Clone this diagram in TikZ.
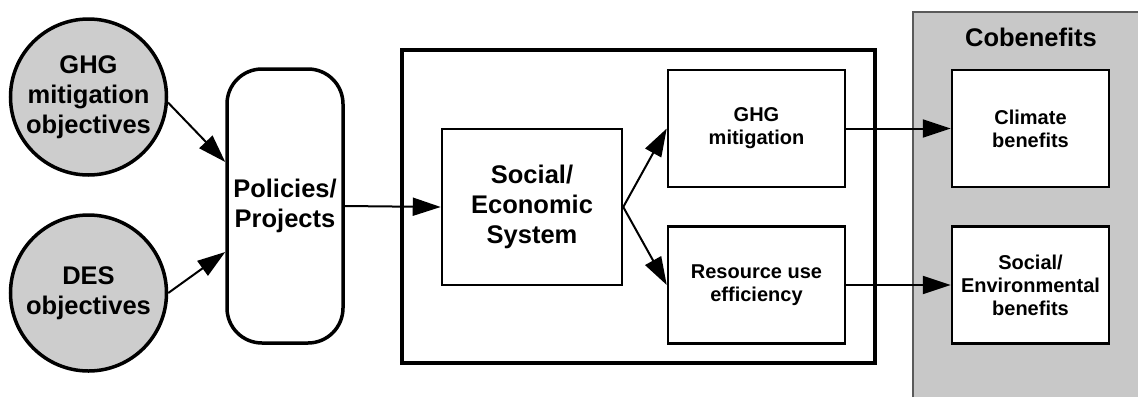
\documentclass[tikz,border=0pt]{standalone}
\usepackage{fontspec}
\setmainfont{Liberation Sans}
\usetikzlibrary{arrows.meta,calc}
\definecolor{panelgray}{RGB}{200,200,200}
\definecolor{circgray}{RGB}{205,205,205}
\definecolor{edgegray}{RGB}{90,90,90}
\tikzset{
  bigfont/.style={font=\fontsize{25.5}{30}\selectfont\bfseries, align=center},
  smallfont/.style={font=\fontsize{20}{23}\selectfont\bfseries, align=center},
  goal/.style={circle, draw, line width=3.5pt, fill=circgray, minimum size=156pt, inner sep=0pt, bigfont},
  polbox/.style={draw, line width=3.5pt, rounded corners=35pt, fill=white, minimum width=116pt, minimum height=274pt, bigfont},
  sesbox/.style={draw, line width=2.5pt, fill=white, minimum width=180pt, minimum height=156pt, bigfont},
  outbox/.style={draw, line width=2.5pt, fill=white, minimum width=177pt, minimum height=117pt, smallfont},
  benbox/.style={draw, line width=2.5pt, fill=white, minimum width=157pt, minimum height=117pt, smallfont},
  arr/.style={line width=2pt, -{Triangle[length=28pt, width=18pt]}}
}
\begin{document}
\begin{tikzpicture}[x=1pt, y=-1pt]
\useasboundingbox (0,0) rectangle (1138,397);
% Cobenefits panel
\fill[panelgray] (913,12) rectangle (1138,397);
\draw[edgegray, line width=2pt] (913,397) -- (913,12) -- (1138,12);
\node[bigfont] (cob) at (1031,37) {Cobenefits};
% big system box
\draw[line width=4.5pt] (402,50) rectangle (875,363);
% nodes
\node[goal] (g1) at (88.5,97) {GHG\\mitigation\\objectives};
\node[goal] (g2) at (88.5,293) {DES\\objectives};
\node[polbox] (pol) at (285,206) {Policies/\\Projects};
\node[sesbox] (ses) at (532,207) {Social/\\Economic\\System};
\node[outbox] (ghg) at (756.5,128.5) {GHG\\mitigation};
\node[outbox] (res) at (756.5,285) {Resource use\\efficiency};
\node[benbox] (clim) at (1030.5,128.5) {Climate\\benefits};
\node[benbox] (soc) at (1030.5,285) {Social/\\Environmental\\benefits};
% connectors
\draw[arr] (g1.-4) -- ([yshift=44pt]pol.west);
\draw[arr] (g2.0) -- ([yshift=-46pt]pol.west);
\draw[arr] (pol.east) -- (ses.west);
\draw[arr] (ses.east) -- (ghg.west);
\draw[arr] (ses.east) -- (res.west);
\draw[arr] (ghg.east) -- (clim.west);
\draw[arr] (res.east) -- (soc.west);
\end{tikzpicture}
\end{document}
